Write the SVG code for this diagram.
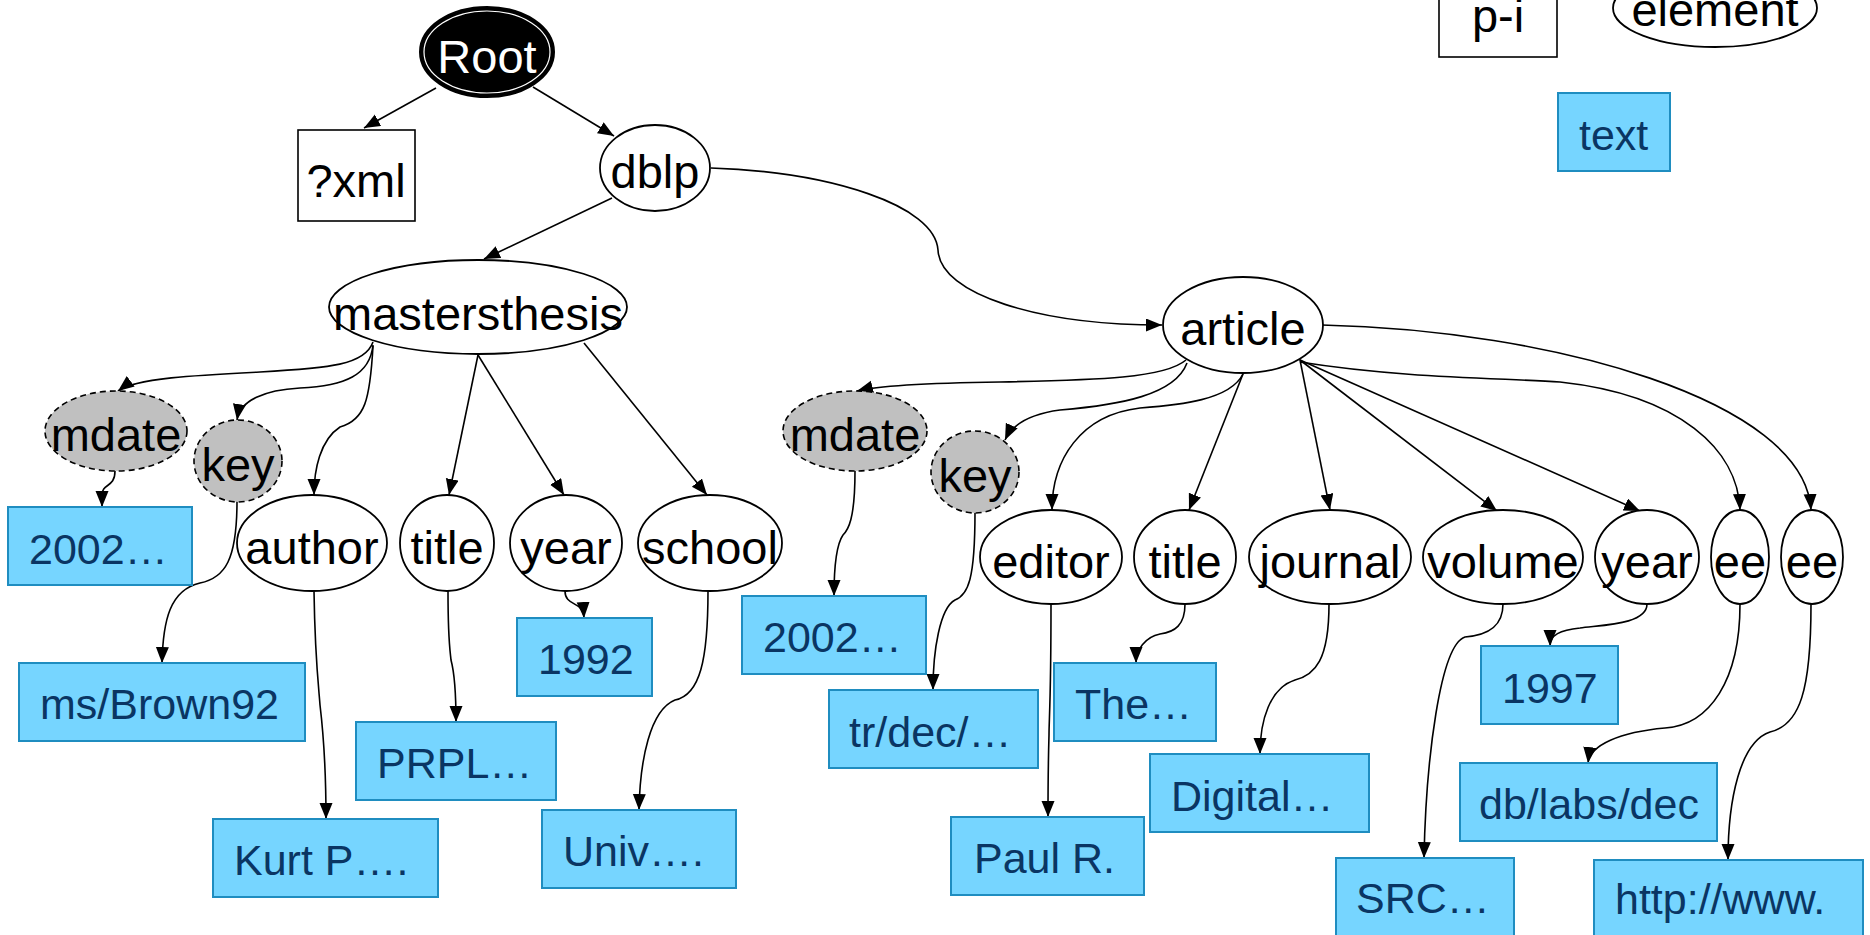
<svg xmlns="http://www.w3.org/2000/svg" width="1870" height="935" viewBox="0 0 1870 935">
<style>
.el{fill:#fff;stroke:#000;stroke-width:1.8}
.attr{fill:#c0c0c0;stroke:#000;stroke-width:1.6;stroke-dasharray:6,4}
.pi{fill:#fff;stroke:#000;stroke-width:1.6}
.tb{fill:#76d5ff;stroke:#1f8dc0;stroke-width:2}
.lbl{font-family:"Liberation Sans",Arial,sans-serif;font-size:47px;fill:#000;text-anchor:middle}
.tt{font-family:"Liberation Sans",Arial,sans-serif;font-size:43px;fill:#0a3563}
.e{fill:none;stroke:#000;stroke-width:1.6;marker-end:url(#ah)}
</style>
<defs>
<marker id="ah" markerUnits="userSpaceOnUse" markerWidth="17" markerHeight="14" refX="16" refY="6.5" orient="auto">
<path d="M0,0 L16,6.5 L0,13 z" fill="#000"/>
</marker>
</defs>
<rect width="1870" height="935" fill="#fff"/>

<g id="connectors">
<path class="e" d="M436,88 L364,128"/>
<path class="e" d="M533,87 L614,136"/>
<path class="e" d="M612,198 L484,259"/>
<path class="e" d="M711,168 C830,172 935,205 938,250 C940,295 1040,325 1162,325"/>
<path class="e" d="M373,342 C365,365 330,368 260,372 C200,375 135,378 118,391"/>
<path class="e" d="M373,345 C370,375 345,386 300,388 C265,390 240,400 237,420"/>
<path class="e" d="M373,346 C370,400 365,420 340,427 C320,440 314,470 314,495"/>
<path class="e" d="M478,355 L449,495"/>
<path class="e" d="M478,355 L564,495"/>
<path class="e" d="M584,343 L707,495"/>
<path class="e" d="M115,471 C115,488 102,483 102,495 L102,507"/>
<path class="e" d="M237,501 C237,560 225,578 200,583 C170,590 163,620 162,663"/>
<path class="e" d="M314,591 C315,660 319,690 320,705 C323,730 326,770 326,819"/>
<path class="e" d="M448,591 C448,640 450,650 451,660 C455,675 456,700 456,722"/>
<path class="e" d="M565,591 C565,607 583,600 584,618"/>
<path class="e" d="M708,591 C708,660 700,695 675,700 C650,710 640,760 639,810"/>
<path class="e" d="M1186,360 C1165,378 1100,380 1000,382 C930,383 880,385 857,391"/>
<path class="e" d="M1187,363 C1175,395 1120,405 1060,410 C1030,414 1012,425 1005,440"/>
<path class="e" d="M1243,374 C1230,400 1180,405 1140,408 C1080,415 1052,460 1052,510"/>
<path class="e" d="M1243,374 L1189,510"/>
<path class="e" d="M1300,360 L1330,510"/>
<path class="e" d="M1300,360 L1497,511"/>
<path class="e" d="M1300,360 L1640,511"/>
<path class="e" d="M1300,362 C1400,378 1500,378 1560,382 C1680,395 1738,450 1740,510"/>
<path class="e" d="M1322,325 C1550,330 1805,400 1811,510"/>
<path class="e" d="M855,471 C855,520 848,530 843,535 C836,545 834,570 834,596"/>
<path class="e" d="M975,512 C975,580 968,595 955,600 C940,608 933,650 933,690"/>
<path class="e" d="M1051,604 C1051,700 1049,720 1049,735 C1048,770 1048,790 1048,817"/>
<path class="e" d="M1185,604 C1185,625 1175,632 1160,634 C1145,637 1136,650 1136,663"/>
<path class="e" d="M1329,604 C1329,660 1315,675 1295,680 C1270,688 1260,720 1260,754"/>
<path class="e" d="M1503,604 C1503,625 1490,635 1465,637 C1440,645 1426,760 1424,858"/>
<path class="e" d="M1647,604 C1647,625 1600,625 1580,628 C1560,630 1550,635 1550,646"/>
<path class="e" d="M1740,604 C1740,680 1710,725 1665,728 C1620,732 1590,745 1588,763"/>
<path class="e" d="M1811,604 C1811,690 1800,725 1770,732 C1740,742 1728,800 1728,860"/>
</g>

<g id="legend-pi"><rect class="pi" x="1439" y="-2" width="118" height="59"/><text class="lbl" x="1498" y="32">p-i</text></g>
<g id="legend-element"><ellipse class="el" cx="1715" cy="8" rx="102" ry="39"/><text class="lbl" x="1715" y="26">element</text></g>
<g id="legend-text"><rect class="tb" x="1558" y="93" width="112" height="78"/><text class="tt" x="1579" y="150">text</text></g>

<g id="root"><ellipse cx="487" cy="52" rx="67" ry="45" fill="#000" stroke="#000" stroke-width="2"/><ellipse cx="487" cy="52" rx="63" ry="41" fill="none" stroke="#fff" stroke-width="1.2"/><text class="lbl" x="487" y="73" style="fill:#fff">Root</text></g>
<g id="pi-xml"><rect class="pi" x="298" y="130" width="117" height="91"/><text class="lbl" x="356" y="197">?xml</text></g>
<g id="dblp"><ellipse class="el" cx="655" cy="168" rx="55" ry="43"/><text class="lbl" x="655" y="188">dblp</text></g>
<g id="mastersthesis"><ellipse class="el" cx="478" cy="307" rx="149" ry="47"/><text class="lbl" x="478" y="330">mastersthesis</text></g>
<g id="article"><ellipse class="el" cx="1243" cy="325" rx="80" ry="48"/><text class="lbl" x="1243" y="345">article</text></g>

<g id="mdate1"><ellipse class="attr" cx="116" cy="431" rx="71" ry="40"/><text class="lbl" x="116" y="451">mdate</text></g>
<g id="key1"><ellipse class="attr" cx="238" cy="461" rx="44" ry="41"/><text class="lbl" x="238" y="481">key</text></g>
<g id="author"><ellipse class="el" cx="312" cy="543" rx="75" ry="48"/><text class="lbl" x="312" y="564">author</text></g>
<g id="title1"><ellipse class="el" cx="447" cy="543" rx="47" ry="48"/><text class="lbl" x="447" y="564">title</text></g>
<g id="year1"><ellipse class="el" cx="566" cy="543" rx="56" ry="48"/><text class="lbl" x="566" y="564">year</text></g>
<g id="school"><ellipse class="el" cx="710" cy="543" rx="72" ry="48"/><text class="lbl" x="710" y="564">school</text></g>

<g id="mdate2"><ellipse class="attr" cx="855" cy="431" rx="72" ry="40"/><text class="lbl" x="855" y="451">mdate</text></g>
<g id="key2"><ellipse class="attr" cx="975" cy="472" rx="44" ry="41"/><text class="lbl" x="975" y="492">key</text></g>
<g id="editor"><ellipse class="el" cx="1051" cy="557" rx="71" ry="47"/><text class="lbl" x="1051" y="578">editor</text></g>
<g id="title2"><ellipse class="el" cx="1185" cy="557" rx="51" ry="47"/><text class="lbl" x="1185" y="578">title</text></g>
<g id="journal"><ellipse class="el" cx="1330" cy="557" rx="81" ry="47"/><text class="lbl" x="1330" y="578">journal</text></g>
<g id="volume"><ellipse class="el" cx="1503" cy="557" rx="80" ry="47"/><text class="lbl" x="1503" y="578">volume</text></g>
<g id="year2"><ellipse class="el" cx="1647" cy="557" rx="52" ry="47"/><text class="lbl" x="1647" y="578">year</text></g>
<g id="ee1"><ellipse class="el" cx="1740" cy="557" rx="29" ry="47"/><text class="lbl" x="1740" y="578">ee</text></g>
<g id="ee2"><ellipse class="el" cx="1812" cy="557" rx="31" ry="47"/><text class="lbl" x="1812" y="578">ee</text></g>

<g id="t-mdate1"><rect class="tb" x="8" y="507" width="184" height="78"/><text class="tt" x="29" y="564">2002…</text></g>
<g id="t-key1"><rect class="tb" x="19" y="663" width="286" height="78"/><text class="tt" x="40" y="719">ms/Brown92</text></g>
<g id="t-author"><rect class="tb" x="213" y="819" width="225" height="78"/><text class="tt" x="234" y="875">Kurt P….</text></g>
<g id="t-title1"><rect class="tb" x="356" y="722" width="200" height="78"/><text class="tt" x="377" y="778">PRPL…</text></g>
<g id="t-year1"><rect class="tb" x="517" y="618" width="135" height="78"/><text class="tt" x="538" y="674">1992</text></g>
<g id="t-school"><rect class="tb" x="542" y="810" width="194" height="78"/><text class="tt" x="563" y="866">Univ….</text></g>
<g id="t-mdate2"><rect class="tb" x="742" y="596" width="184" height="78"/><text class="tt" x="763" y="652">2002…</text></g>
<g id="t-key2"><rect class="tb" x="829" y="690" width="209" height="78"/><text class="tt" x="849" y="747">tr/dec/…</text></g>
<g id="t-editor"><rect class="tb" x="951" y="817" width="193" height="78"/><text class="tt" x="974" y="873">Paul R.</text></g>
<g id="t-title2"><rect class="tb" x="1054" y="663" width="162" height="78"/><text class="tt" x="1075" y="719">The…</text></g>
<g id="t-journal"><rect class="tb" x="1150" y="754" width="219" height="78"/><text class="tt" x="1171" y="811">Digital…</text></g>
<g id="t-volume"><rect class="tb" x="1336" y="858" width="178" height="80"/><text class="tt" x="1356" y="913">SRC…</text></g>
<g id="t-year2"><rect class="tb" x="1481" y="646" width="137" height="78"/><text class="tt" x="1502" y="703">1997</text></g>
<g id="t-ee1"><rect class="tb" x="1460" y="763" width="257" height="78"/><text class="tt" x="1479" y="819">db/labs/dec</text></g>
<g id="t-ee2"><rect class="tb" x="1594" y="860" width="269" height="78"/><text class="tt" x="1615" y="914">http://www.</text></g>
</svg>
